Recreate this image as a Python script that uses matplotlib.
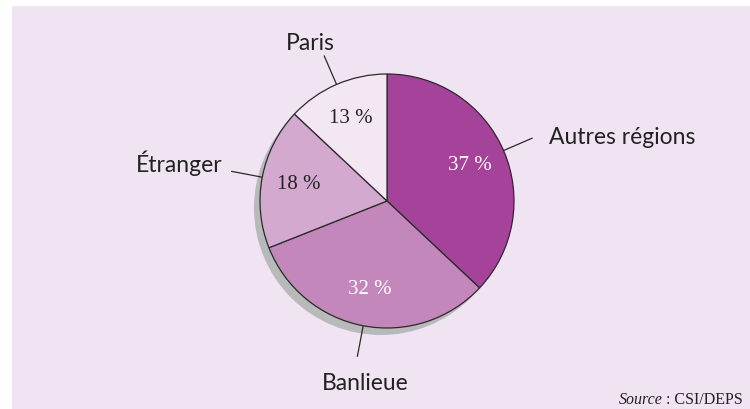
import matplotlib
matplotlib.use('Agg')
import matplotlib.pyplot as plt
import numpy as np
from matplotlib.patches import Rectangle, Circle

# Data
categories = ['Autres régions', 'Banlieue', 'Étranger', 'Paris']
shares = [37, 32, 18, 13]
colors = ['#a5439a', '#c387bb', '#d4a9cf', '#f3e7f3']
pct_colors = ['white', 'white', '#222222', '#222222']
source_text = 'CSI/DEPS'

W, H = 750, 409
fig = plt.figure(figsize=(W / 100, H / 100), dpi=100)
ax = fig.add_axes([0, 0, 1, 1])

# lavender panel
ax.add_patch(Rectangle((12, 0), W - 12, H - 6, facecolor='#f0e4f2',
                       edgecolor='none', zorder=0))

cx, cy, R = 387, H - 201, 127

# drop shadow
ax.add_patch(Circle((cx - 6, cy - 7), R, facecolor='#b8b9ba',
                    edgecolor='none', zorder=1))

wedges, texts, autotexts = ax.pie(
    shares, colors=colors, startangle=90, counterclock=False,
    center=(cx, cy), radius=R, autopct='%d %%', pctdistance=0.71,
    wedgeprops=dict(edgecolor='#2a2a2a', linewidth=0.9),
    textprops=dict(family='Liberation Serif', fontsize=15))
for w in wedges:
    w.set_zorder(2)
for t, c in zip(autotexts, pct_colors):
    t.set_color(c)
    t.set_zorder(3)

# pie() resets the limits, so set them afterwards
ax.set_xlim(0, W)
ax.set_ylim(0, H)
ax.set_aspect('equal')
ax.axis('off')

# leader lines and category labels (label anchor offsets from pie centre)
label_pos = {'Autres régions': (162, 64, 'left'),
             'Banlieue': (-22, -183, 'center'),
             'Étranger': (-165, 38, 'right'),
             'Paris': (-77, 158, 'center')}
for w, name in zip(wedges, categories):
    ang = np.deg2rad((w.theta1 + w.theta2) / 2)
    ca, sa = np.cos(ang), np.sin(ang)
    ax.plot([cx + 128 * ca, cx + 158 * ca], [cy + 128 * sa, cy + 158 * sa],
            color='#2a2a2a', lw=0.9, zorder=3)
    dx, dy, ha = label_pos[name]
    ax.text(cx + dx, cy + dy, name, ha=ha, va='center',
            family='Lato', fontsize=16.5, color='#222222', zorder=4)

# source note: italic "Source" followed by plain text
src = ax.text(743, 5, ' : ' + source_text, ha='right', va='baseline',
              family='Liberation Serif', fontsize=11.5, color='#222222')
ax.annotate('Source', xy=(0, 0), xycoords=src, ha='right', va='bottom',
            family='Liberation Serif', style='italic', fontsize=11.5,
            color='#222222')

fig.savefig('out.png', dpi=100, facecolor='white')
